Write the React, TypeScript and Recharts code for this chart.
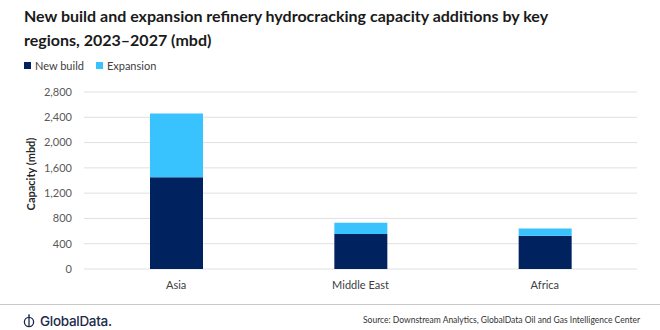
import React from "react";
import { BarChart, Bar, XAxis, YAxis, CartesianGrid } from "recharts";

const regions = ["Asia", "Middle East", "Africa"];
const newBuild = [1450, 555, 525];
const expansion = [1010, 177, 117];
const yTicks = [0, 400, 800, 1200, 1600, 2000, 2400, 2800];
const seriesNames = ["New build", "Expansion"];
const colors = ["#00235F", "#38C3FF"];
const titleLines = ["New build and expansion refinery hydrocracking capacity additions by key", "regions, 2023–2027 (mbd)"];

const data = regions.map((r, i) => ({ region: r, newBuild: newBuild[i], expansion: expansion[i] }));

const FONT = "Lato, 'Open Sans', sans-serif";

export default function App() {
  return (
    <div style={{ position: "fixed", left: 0, top: 0, width: 660, height: 330, background: "#fff", fontFamily: FONT, overflow: "hidden" }}>
      <div style={{ position: "absolute", left: 24, top: 4, fontSize: 16, fontWeight: 700, color: "#1a1a1a", lineHeight: "23.5px", whiteSpace: "nowrap" }}>
        {titleLines[0]}
        <br />
        {titleLines[1]}
      </div>
      <div style={{ position: "absolute", left: 24, top: 59, fontSize: 11, color: "#404040", display: "flex", alignItems: "center" }}>
        {seriesNames.map((n, i) => (
          <div key={n} style={{ display: "flex", alignItems: "center", marginRight: 12 }}>
            <span style={{ display: "inline-block", width: 7, height: 7, background: colors[i], marginRight: 4 }} />
            <span>{n}</span>
          </div>
        ))}
      </div>
      <div style={{ position: "absolute", left: 0, top: 0 }}>
        <BarChart width={660} height={330} data={data} margin={{ top: 92, right: 23, bottom: 31, left: 24 }}>
          <CartesianGrid vertical={false} stroke="#e0e0e0" />
          <XAxis dataKey="region" axisLine={false} tickLine={false} height={30} tick={{ fill: "#404040", fontSize: 11, fontFamily: FONT }} tickMargin={6} />
          <YAxis
            width={60}
            domain={[0, 2800]}
            ticks={yTicks}
            interval={0}
            axisLine={false}
            tickLine={false}
            tickMargin={6}
            tickFormatter={(v: number) => v.toLocaleString("en-US")}
            tick={{ fill: "#595959", fontSize: 11, fontFamily: FONT }}
          />
          <Bar dataKey="newBuild" name={seriesNames[0]} stackId="a" fill={colors[0]} barSize={53} isAnimationActive={false} />
          <Bar dataKey="expansion" name={seriesNames[1]} stackId="a" fill={colors[1]} barSize={53} isAnimationActive={false} />
        </BarChart>
      </div>
      <div style={{ position: "absolute", left: 30, top: 174, transform: "translate(-50%, -50%) rotate(-90deg)", fontSize: 11, fontWeight: 700, color: "#262626", whiteSpace: "nowrap" }}>
        Capacity (mbd)
      </div>
      <div style={{ position: "absolute", left: 0, top: 304, width: 660, height: 1, background: "#c8c8c8" }} />
      <div style={{ position: "absolute", left: 23, top: 313, display: "flex", alignItems: "center", color: "#1c2a4a" }}>
        <svg width={12} height={14} viewBox="0 0 12 14" style={{ marginRight: 5 }}>
          <circle cx={6} cy={8} r={4.6} fill="none" stroke="#1c2a4a" strokeWidth={1.3} />
          <line x1={6} y1={2} x2={6} y2={13} stroke="#1c2a4a" strokeWidth={1.3} />
          <circle cx={6} cy={1.2} r={0.9} fill="#1c2a4a" />
        </svg>
        <span style={{ fontSize: 13.5, fontFamily: "Inter, sans-serif", fontWeight: 500, letterSpacing: -0.3 }}>GlobalData.</span>
      </div>
      <div style={{ position: "absolute", right: 20, top: 315, fontSize: 8.5, color: "#333" }}>
        Source: Downstream Analytics, GlobalData Oil and Gas Intelligence Center
      </div>
    </div>
  );
}
